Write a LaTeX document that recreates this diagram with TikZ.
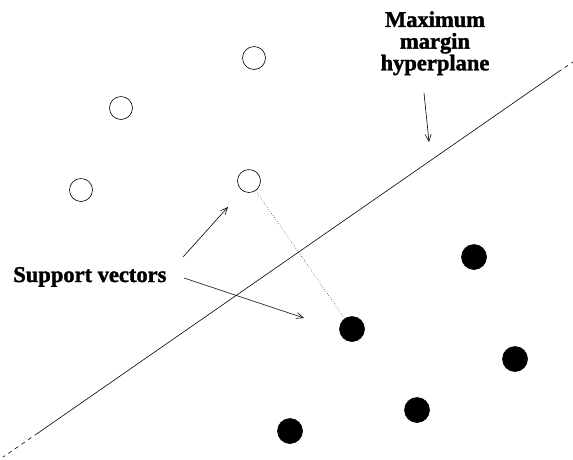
\documentclass[tikz,border=0pt]{standalone}
\usepackage{fontspec}
\setmainfont{Liberation Serif}
\newfontfamily\heavyserif[BoldFeatures={FakeBold=1.6}]{Liberation Serif}
\usetikzlibrary{arrows.meta}
\begin{document}
\begin{tikzpicture}[x=1pt,y=-1pt,line width=0.6pt,
    opendot/.style={circle,draw,inner sep=0pt,minimum size=23pt},
    filldot/.style={circle,draw,fill=black,inner sep=0pt,minimum size=25pt},
    labeltext/.style={font=\heavyserif\fontsize{22.5}{21.7}\selectfont\bfseries,inner sep=0pt},
    pointer/.style={-{Straight Barb[length=7pt,width=6pt]}}]
                \useasboundingbox (0,0) rectangle (573,459);

                \coordinate (PlaneEndLow) at (3,457);
                \coordinate (PlaneSolidLow) at (38,433);
                \coordinate (PlaneSolidHigh) at (558,72);
                \coordinate (PlaneEndHigh) at (573,62);

                \node[opendot] (OpenTop) at (254,58) {};
                \node[opendot] (OpenMid) at (121,108) {};
                \node[opendot] (OpenLeft) at (81,190) {};
                \node[opendot] (OpenSupport) at (249,181) {};

                \node[filldot] (FillRight) at (474,257) {};
                \node[filldot] (FillSupport) at (352,329) {};
                \node[filldot] (FillFar) at (515,359) {};
                \node[filldot] (FillLow) at (417,410) {};
                \node[filldot] (FillBottom) at (290,431) {};

                \node[labeltext,anchor=base west] (SupportLabel) at (13,282) {Support vectors};
                \node[labeltext,anchor=north,align=center] (PlaneLabel) at (435,11) {Maximum\\margin\\hyperplane};

                \draw (PlaneSolidLow)--(PlaneSolidHigh);
                \draw[dashed,dash pattern=on 4pt off 4pt] (PlaneSolidLow)--(PlaneEndLow);
                \draw[dashed,dash pattern=on 4pt off 4pt] (PlaneSolidHigh)--(PlaneEndHigh);
                \draw[dotted,line width=0.5pt] (OpenSupport)--(FillSupport);

                \coordinate (SupportUpStart) at (183,257);
                \coordinate (SupportUpTip) at (228,207);
                \coordinate (SupportDownStart) at (184,278);
                \coordinate (SupportDownTip) at (304,318);
                \coordinate (PlaneArrowStart) at (424,93);
                \coordinate (PlaneArrowTip) at (429,142);

                \draw[pointer] (SupportUpStart)--(SupportUpTip);
                \draw[pointer] (SupportDownStart)--(SupportDownTip);
                \draw[pointer] (PlaneArrowStart)--(PlaneArrowTip);
            \end{tikzpicture}
\end{document}
